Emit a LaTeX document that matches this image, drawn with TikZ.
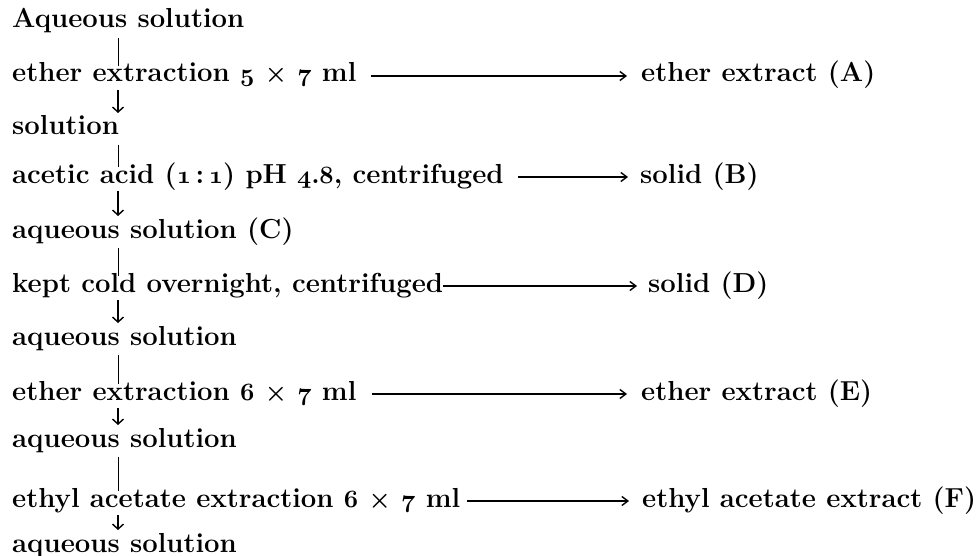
\documentclass[tikz,border=0pt]{standalone}
\usetikzlibrary{arrows.meta}
% old-style figures, bold, taken from the math italic font
\newcommand{\osn}[1]{{\boldmath$\mathnormal{#1}$}}
\newcommand{\tms}{{\boldmath$\times$}}
\begin{document}
\begin{tikzpicture}[x=1pt,y=-1pt,
  every node/.style={inner sep=0pt, font=\fontsize{27.5}{32}\selectfont\bfseries},
  txt/.style={anchor=base west},
  bar/.style={line width=1.4pt},
  down/.style={line width=1.4pt, -{Straight Barb[length=5pt,width=11pt]}},
  side/.style={line width=1.4pt, -{Straight Barb[length=6pt,width=9pt]}}]
\useasboundingbox (0,0) rectangle (979,556);

% main sequence, left column
\node[txt] (r0)  at (12,28)  {Aqueous solution};
\node[txt] (r1)  at (12,82)  {ether extraction \osn{5} \tms{} \osn{7} ml};
\node[txt] (r2)  at (12,135) {solution};
\node[txt] (r3)  at (12,183) {acetic acid (\osn{1}\,:\,\osn{1}) pH \osn{4.8}, centrifuged};
\node[txt] (r4)  at (12,238) {aqueous solution (C)};
\node[txt] (r5)  at (12,292) {kept cold overnight, centrifuged};
\node[txt] (r6)  at (12,345) {aqueous solution};
\node[txt] (r7)  at (12,400) {ether extraction \osn{6} \tms{} \osn{7} ml};
\node[txt] (r8)  at (12,447) {aqueous solution};
\node[txt] (r9)  at (12,507) {ethyl acetate extraction \osn{6} \tms{} \osn{7} ml};
\node[txt] (r10) at (12,552) {aqueous solution};

% separated fractions, right column
\node[txt] (fA) at (641,82)  {ether extract (A)};
\node[txt] (fB) at (640,183) {solid (B)};
\node[txt] (fD) at (648,292) {solid (D)};
\node[txt] (fE) at (641,400) {ether extract (E)};
\node[txt] (fF) at (642,507) {ethyl acetate extract (F)};

% vertical flow: plain bars into each operation
\foreach \a/\b in {r0/r1, r2/r3, r4/r5, r6/r7, r8/r9}
  \draw[bar] ([shift={(106.5,10)}]\a.base west) -- ([shift={(106.5,-16)}]\b.base west);
% vertical flow: arrows out of each operation
\foreach \a/\b in {r1/r2, r3/r4, r5/r6, r7/r8, r9/r10}
  \draw[down] ([shift={(106,8)}]\a.base west) -- ([shift={(106,-22)}]\b.base west);

% side arrows to the separated fractions
\draw[side] ([shift={(14,-6)}]r1.base east) -- ([shift={(-14,-6)}]fA.base west);
\draw[side] ([shift={(14,-6)}]r3.base east) -- ([shift={(-12,-6)}]fB.base west);
\draw[side] ([shift={(0,-6)}]r5.base east)  -- ([shift={(-11,-6)}]fD.base west);
\draw[side] ([shift={(15,-6)}]r7.base east) -- ([shift={(-14,-6)}]fE.base west);
\draw[side] ([shift={(7,-6)}]r9.base east)  -- ([shift={(-13,-6)}]fF.base west);
\end{tikzpicture}
\end{document}
